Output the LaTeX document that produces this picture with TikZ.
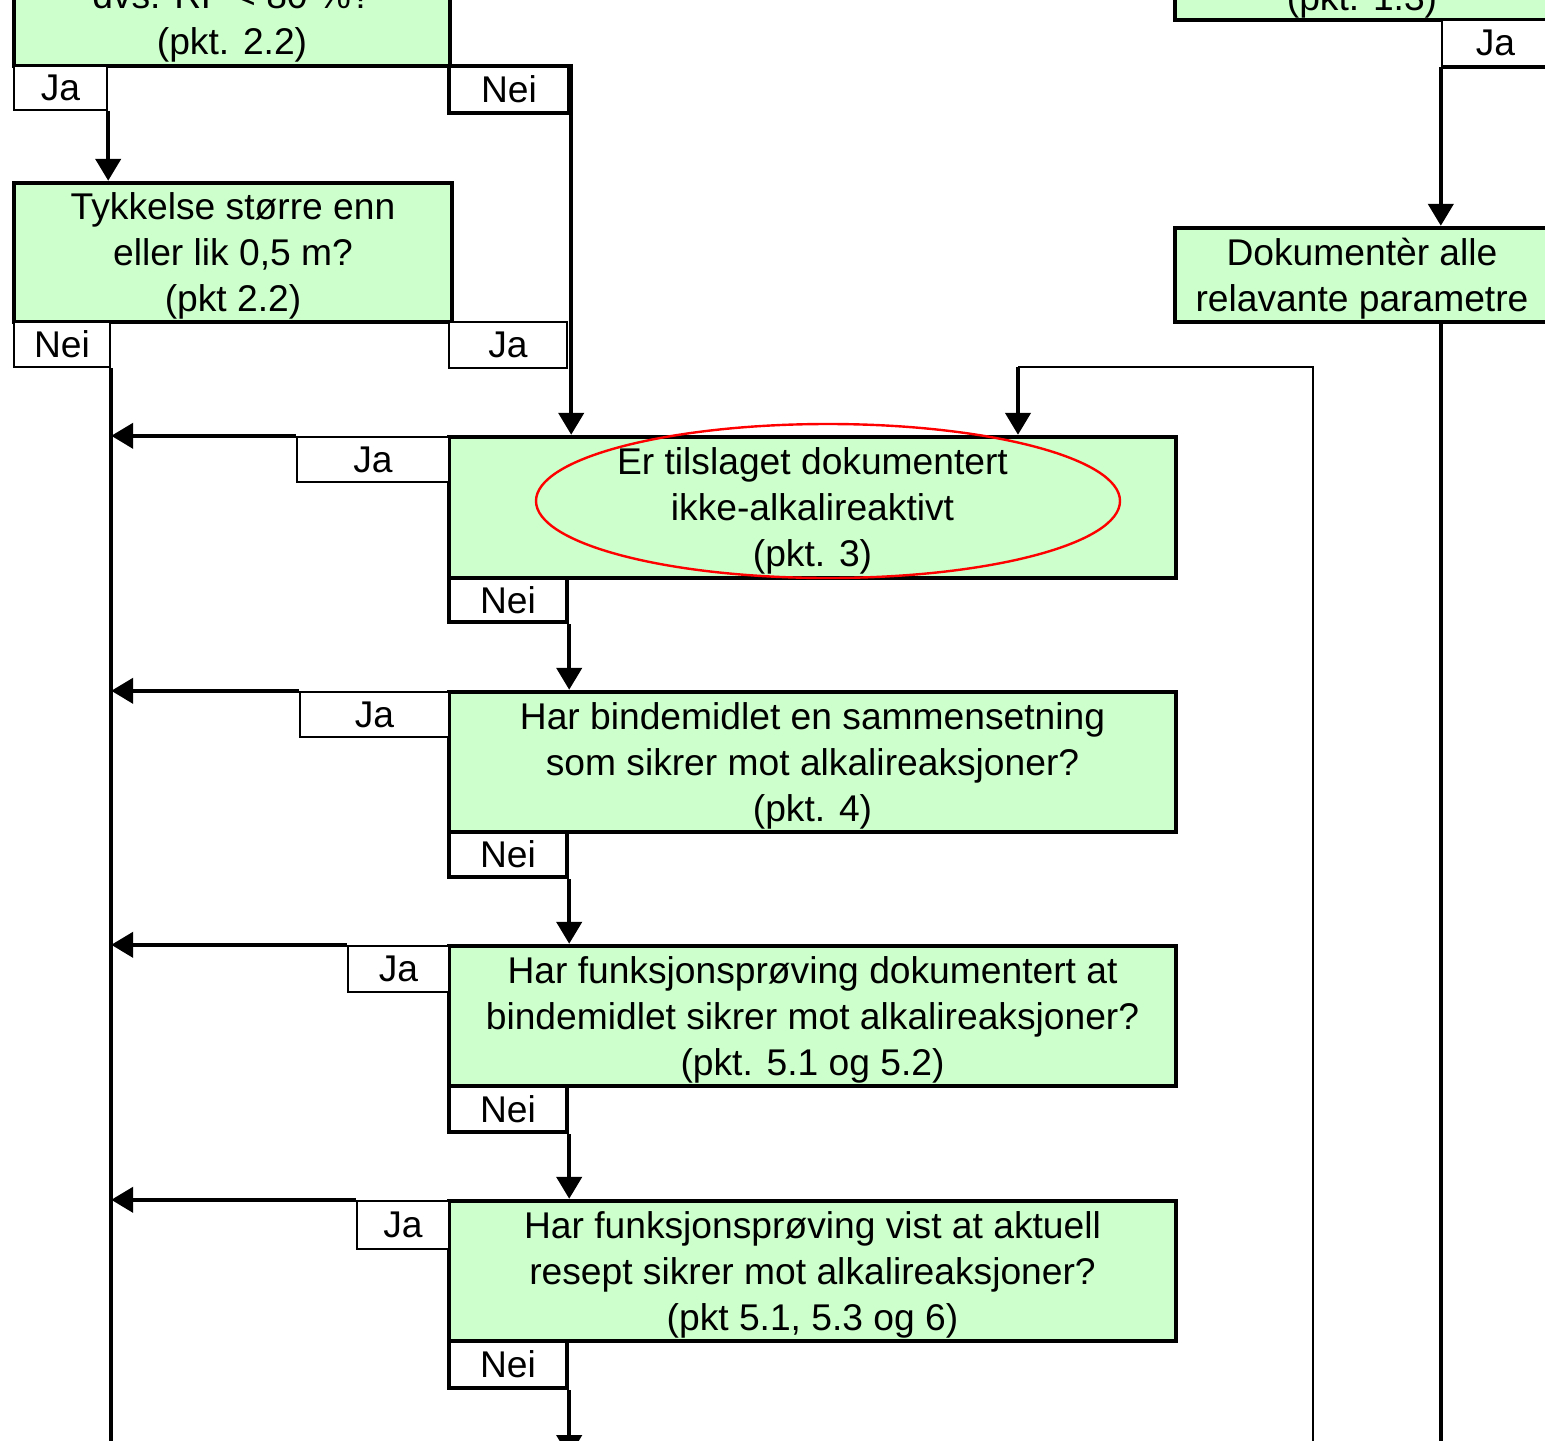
\documentclass[tikz,border=0pt]{standalone}
\usepackage{fontspec}
\setmainfont{Liberation Sans}
\usetikzlibrary{arrows.meta}

\definecolor{qgreen}{RGB}{204,255,204}

\tikzset{
  qbox/.style={draw, line width=2.2pt, fill=qgreen, inner sep=0pt, align=center, text depth=0pt},
  lbl/.style={draw, line width=1.2pt, fill=white, inner sep=0pt},
  nlbl/.style={lbl, line width=2.2pt},
  sz/.style 2 args={minimum width=#1*0.5pt, minimum height=#2*0.5pt},
  flow/.style={line width=2.2pt, -{Triangle[width=12.5pt,length=11pt]}},
  link/.style={line width=2.2pt},
  thinlink/.style={line width=1.2pt}
}

\begin{document}
\begin{tikzpicture}[x=0.5pt, y=-0.5pt, font=\fontsize{18.6}{23}\selectfont]

            \useasboundingbox (0,0) rectangle (1545,1440);
            \clip (0,0) rectangle (1545,1440);

            \coordinate (bot) at (0,1446);

            % left column
            \node[qbox, sz={436}{96}] (q0) at (232,18) {dvs. RF < 80~\%?\\(pkt. 2.2)};
            \node[lbl, sz={93}{44}] (j0) at (60.5,88) {Ja};
            \node[nlbl, sz={120}{47}] (n0) at (509,89.5) {Nei};

            \node[qbox, sz={438}{139}] (q1) at (233,252.5) {Tykkelse større enn\\eller lik 0,5 m?\\(pkt 2.2)};
            \node[lbl, sz={96}{45}] (n1) at (62,344.5) {Nei};
            \node[lbl, sz={118}{46}] (j1) at (508,345) {Ja};

            % main chain
            \node[qbox, sz={727}{141}] (q2) at (812.5,507.5) {Er tilslaget dokumentert\\ikke-alkalireaktivt\\(pkt. 3)};
            \node[lbl, sz={152}{45}] (j2) at (373,459.5) {Ja};
            \node[nlbl, sz={118}{44}] (n2) at (508,600) {Nei};

            \node[qbox, sz={727}{140}] (q3) at (812.5,762) {Har bindemidlet en sammensetning\\som sikrer mot alkalireaksjoner?\\(pkt. 4)};
            \node[lbl, sz={149}{45}] (j3) at (374.5,714.5) {Ja};
            \node[nlbl, sz={118}{45}] (n3) at (508,854.5) {Nei};

            \node[qbox, sz={727}{140}] (q4) at (812.5,1016) {Har funksjonsprøving dokumentert at\\bindemidlet sikrer mot alkalireaksjoner?\\(pkt. 5.1 og 5.2)};
            \node[lbl, sz={101}{46}] (j4) at (398.5,969) {Ja};
            \node[nlbl, sz={118}{46}] (n4) at (508,1109) {Nei};

            \node[qbox, sz={727}{140}] (q5) at (812.5,1271) {Har funksjonsprøving vist at aktuell\\resept sikrer mot alkalireaksjoner?\\(pkt 5.1, 5.3 og 6)};
            \node[lbl, sz={92}{48}] (j5) at (403,1225) {Ja};
            \node[nlbl, sz={118}{47}] (n5) at (508,1364.5) {Nei};

            % right column
            \node[qbox, sz={374}{46}] (r0) at (1362,-3) {(pkt. 1.3)};
            \node[lbl, sz={107}{46}] (rj0) at (1495.5,43) {Ja};
            \node[qbox, sz={374}{94}] (r1) at (1362,275) {Dokumentèr alle\\relavante parametre};

            \coordinate (back) at (1313,1446);
            \coordinate (turn) at (1018,367);
            \coordinate (out) at (567,1457);

            \draw[flow] (j0.south east) -- (j0.south east |- q1.north);
            \draw[flow] (n0.north east) -- (n0.north east |- q2.north);
            \draw[link] (n1.south east) -- (n1.south east |- bot);

            \draw[flow] (j2.north west) -- (n1.south east |- j2.north west);
            \draw[flow] (j3.north west) -- (n1.south east |- j3.north west);
            \draw[flow] (j4.north west) -- (n1.south east |- j4.north west);
            \draw[flow] (j5.north west) -- (n1.south east |- j5.north west);

            \draw[flow] (n2.south east) -- (n2.south east |- q3.north);
            \draw[flow] (n3.south east) -- (n3.south east |- q4.north);
            \draw[flow] (n4.south east) -- (n4.south east |- q5.north);
            \draw[flow] (n5.south east) -- (n5.south east |- out);

            \draw[flow] (rj0.south west) -- (rj0.south west |- r1.north);
            \draw[link] (rj0.south west |- r1.south) -- (rj0.south west |- bot);
            \draw[link] (rj0.south west) -- (rj0.south east);

            \draw[thinlink] (back) |- (turn);
            \draw[flow] (turn) -- (turn |- q2.north);

            \draw[red, line width=1.2pt] (828,501) ellipse [x radius=146pt, y radius=38.5pt];

\end{tikzpicture}
\end{document}
